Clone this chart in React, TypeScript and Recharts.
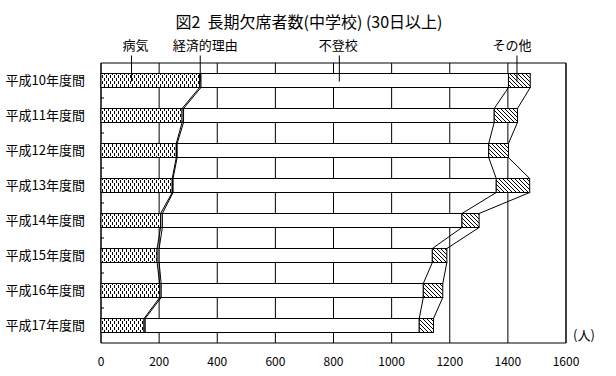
import React from 'react';
import { BarChart, Bar, XAxis, YAxis, CartesianGrid, ReferenceArea } from 'recharts';

const categories = ['平成10年度間', '平成11年度間', '平成12年度間', '平成13年度間', '平成14年度間', '平成15年度間', '平成16年度間', '平成17年度間'];
const illness = [339, 279, 259, 245, 205, 193, 202, 148];
const economic = [5, 5, 3, 3, 6, 7, 5, 4];
const truancy = [1058, 1069, 1072, 1112, 1031, 940, 902, 943];
const other = [75, 80, 68, 115, 59, 50, 67, 49];
const xTicks = [0, 200, 400, 600, 800, 1000, 1200, 1400, 1600];
const seriesNames = ['病気', '経済的理由', '不登校', 'その他'];
const keys = ['illness', 'economic', 'truancy', 'other'];
const title = '図2\u00a0\u00a0長期欠席者数(中学校)\u00a0(30日以上)';
const unitLabel = '(人)';

const data = categories.map((name, i) => ({
  name,
  illness: illness[i],
  economic: economic[i],
  truancy: truancy[i],
  other: other[i],
}));

const W = 616;
const H = 376;
const M_TOP = 63;
const X_AXIS_H = 33;
const PLOT_H = H - M_TOP - X_AXIS_H;
const BAND = PLOT_H / categories.length;
const FONT = '"Noto Sans CJK JP", "Noto Sans", sans-serif';

const fills = ['url(#dots)', '#fff', '#fff', 'url(#hatch)'];
// leader-label placement inside the first bar: fraction along segment, text dx
const annot = [
  { frac: 0.31, dx: 4 },
  { frac: 0.5, dx: 5 },
  { frac: 0.45, dx: -1 },
  { frac: 0.39, dx: -5 },
];

const makeShape = (k: number) => (props: any) => {
  const { x, y, width, height, index, payload } = props;
  const key = keys[k];
  let low = 0;
  for (let j = 0; j < k; j++) low += payload[keys[j]];
  const val = payload[key];
  const ppu = width / val;
  const x0 = x - low * ppu;
  const end = x + width;
  const next = data[index + 1];
  let connector = null;
  if (next) {
    let cum = 0;
    for (let j = 0; j <= k; j++) cum += (next as any)[keys[j]];
    const nx = x0 + cum * ppu;
    connector = <line x1={end} y1={y + height} x2={nx} y2={y + BAND} stroke="#000" strokeWidth={1} />;
  }
  let tick = null;
  if (k === 0 && next) {
    const ty = y + height + (BAND - height) / 2;
    tick = <line x1={x0} y1={ty} x2={x0 + 3} y2={ty} stroke="#000" strokeWidth={1} />;
  }
  let label = null;
  if (index === 0) {
    const lx = x + width * annot[k].frac;
    label = (
      <g>
        <line x1={lx} y1={y - 18} x2={lx} y2={y + height / 2 + 1} stroke="#000" strokeWidth={1} />
        <text x={lx + annot[k].dx} y={y - 24} textAnchor="middle" fontSize={13} fontFamily={FONT} fill="#000">
          {seriesNames[k]}
        </text>
      </g>
    );
  }
  return (
    <g>
      <rect x={x} y={y} width={width} height={height} fill={fills[k]} stroke="#000" strokeWidth={1} />
      {connector}
      {tick}
      {label}
    </g>
  );
};

const shapes = keys.map((_, k) => makeShape(k));

const renderUnit = (props: any) => {
  const vb = props.viewBox || {};
  return (
    <text x={vb.x + vb.width + 7} y={vb.y - 3} fontSize={13} fontFamily={FONT} fill="#000">
      {unitLabel}
    </text>
  );
};

export default function App() {
  return (
    <div style={{ position: 'absolute', left: 0, top: 0, width: W, height: H, background: '#fff' }}>
      <BarChart
        width={W}
        height={H}
        data={data}
        layout="vertical"
        margin={{ top: M_TOP, right: 50, left: 0, bottom: 0 }}
        barCategoryGap="30%"
      >
        <defs>
          <pattern id="dots" width="4" height="6" patternUnits="userSpaceOnUse">
            <rect width="4" height="6" fill="#fff" />
            <rect x="0" y="0" width="1" height="3" fill="#000" />
            <rect x="2" y="3" width="1" height="3" fill="#000" />
          </pattern>
          <pattern id="hatch" width="4" height="4" patternUnits="userSpaceOnUse">
            <rect width="4" height="4" fill="#fff" />
            <path d="M0,0 L4,4 M-1,3 L1,5 M3,-1 L5,1" stroke="#000" strokeWidth="1" />
          </pattern>
        </defs>
        <text x={309} y={28} textAnchor="middle" fontSize={16} fontFamily={FONT} fill="#000">
          {title}
        </text>
        <CartesianGrid horizontal={false} vertical={true} stroke="#000" strokeWidth={1} />
        <XAxis
          type="number"
          domain={[0, 1600]}
          ticks={xTicks}
          axisLine={false}
          tickLine={false}
          tickSize={0}
          tickMargin={14}
          height={X_AXIS_H}
          tick={{ fontSize: 12, fontFamily: FONT, fill: '#000' }}
          label={{ content: renderUnit }}
          interval={0}
        />
        <YAxis
          type="category"
          dataKey="name"
          width={101}
          axisLine={false}
          tickLine={false}
          tickSize={0}
          tickMargin={16}
          interval={0}
          tick={{ fontSize: 13, fontFamily: FONT, fill: '#000' }}
        />
        <ReferenceArea x1={0} x2={1600} fill="none" fillOpacity={0} stroke="#000" strokeWidth={1} />
        {keys.map((key, k) => (
          <Bar key={key} dataKey={key} stackId="a" isAnimationActive={false} shape={shapes[k]} />
        ))}
      </BarChart>
    </div>
  );
}
